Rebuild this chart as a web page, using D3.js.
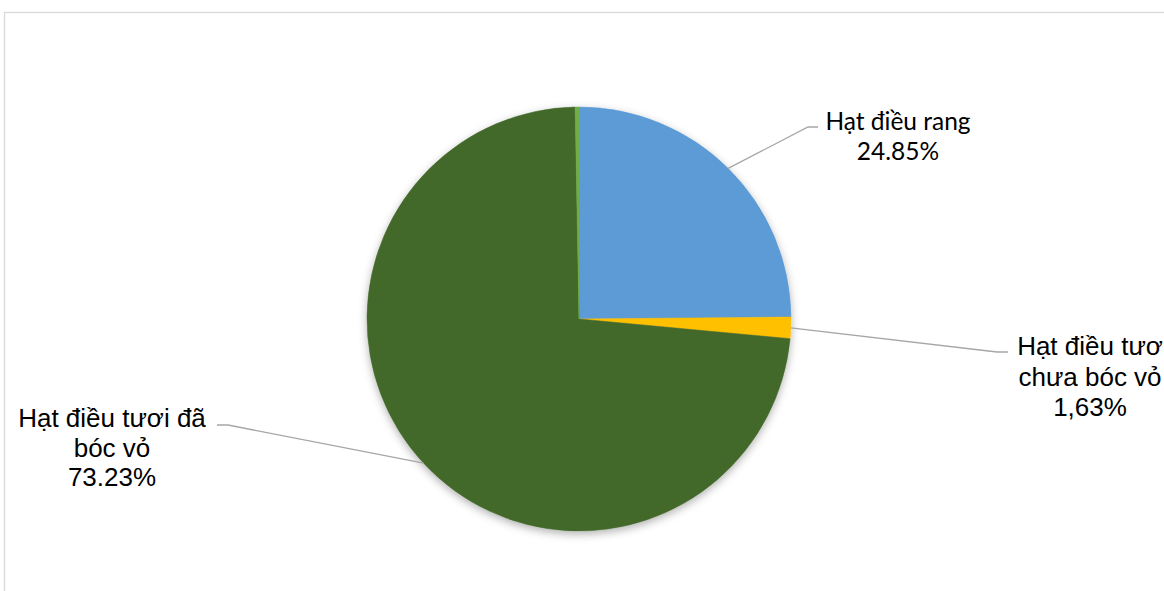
<!DOCTYPE html>
<html>
<head>
<meta charset="utf-8">
<script src="https://cdn.jsdelivr.net/npm/d3@7"></script>
<style>
  html, body { margin: 0; padding: 0; background: #fff; overflow: hidden; }
  svg { display: block; }
</style>
</head>
<body>
<div id="chart"></div>
<script>
// slice data, clockwise from 12 o'clock
var categories = ["Hạt điều rang", "Hạt điều tươi chưa bóc vỏ", "Hạt điều tươi đã bóc vỏ", "Khác"];
var values = [24.85, 1.63, 73.23, 0.29];
var colors = ["#5b9bd5", "#ffc000", "#43682b", "#70ad47"];
var labelLines = [
  ["Hạt điều rang", "24.85%"],
  ["Hạt điều tươ", "chưa bóc vỏ", "1,63%"],
  ["Hạt điều tươi đã", "bóc vỏ", "73.23%"],
  null
];

var width = 1164, height = 591;
var cx = 579, cy = 319, radius = 212;

// label placement (layout only)
var labelPos = [
  { x: 898, y: 130, font: "Lato, 'Open Sans', sans-serif", size: 24.5, lh: 30, elbow: [808, 127], end: [818, 127] },
  { x: 1090, y: 355, font: "'Liberation Sans', Arial, sans-serif", size: 26, lh: 30.5, elbow: [997, 352], end: [1008, 352] },
  { x: 112, y: 427, font: "'Liberation Sans', Arial, sans-serif", size: 26, lh: 29.5, elbow: [228, 425], end: [217, 425] },
  null
];

var svg = d3.select("#chart").append("svg")
  .attr("width", width)
  .attr("height", height);

var defs = svg.append("defs");
var filt = defs.append("filter").attr("id", "shadow")
  .attr("x", "-20%").attr("y", "-20%").attr("width", "140%").attr("height", "140%");
filt.append("feDropShadow")
  .attr("dx", 0).attr("dy", 3)
  .attr("stdDeviation", 4)
  .attr("flood-color", "#000")
  .attr("flood-opacity", 0.3);

// chart frame
svg.append("rect")
  .attr("x", 4.5).attr("y", 12.5)
  .attr("width", width + 10).attr("height", height + 10)
  .attr("fill", "none")
  .attr("stroke", "#d9d9d9")
  .attr("stroke-width", 1.3);

var data = categories.map(function(c, i) {
  return { name: c, value: values[i], color: colors[i], lines: labelLines[i], pos: labelPos[i] };
});

var pie = d3.pie().sort(null).value(function(d) { return d.value; });
var arc = d3.arc().innerRadius(0).outerRadius(radius);
var edgeArc = d3.arc().innerRadius(radius).outerRadius(radius);

var g = svg.append("g").attr("transform", "translate(" + cx + "," + cy + ")");
var arcs = pie(data);

g.append("g").attr("filter", "url(#shadow)")
  .selectAll("path.slice")
  .data(arcs)
  .enter().append("path")
  .attr("class", "slice")
  .attr("d", arc)
  .attr("fill", function(d) { return d.data.color; })
  .attr("stroke", function(d) { return d.data.color; })
  .attr("stroke-width", 0.5);

// leader lines
arcs.forEach(function(d) {
  var p = d.data.pos;
  if (!p) return;
  var c = edgeArc.centroid(d);
  var pts = [[c[0] + cx, c[1] + cy], p.elbow, p.end];
  svg.append("polyline")
    .attr("points", pts.map(function(q) { return q.join(","); }).join(" "))
    .attr("fill", "none")
    .attr("stroke", "#a6a6a6")
    .attr("stroke-width", 1.3);
});

// labels
arcs.forEach(function(d) {
  var p = d.data.pos;
  if (!p) return;
  var t = svg.append("text")
    .attr("text-anchor", "middle")
    .attr("font-family", p.font)
    .attr("font-size", p.size)
    .attr("fill", "#000");
  d.data.lines.forEach(function(line, i) {
    t.append("tspan")
      .attr("x", p.x)
      .attr("y", p.y + i * p.lh)
      .text(line);
  });
});
</script>
</body>
</html>
